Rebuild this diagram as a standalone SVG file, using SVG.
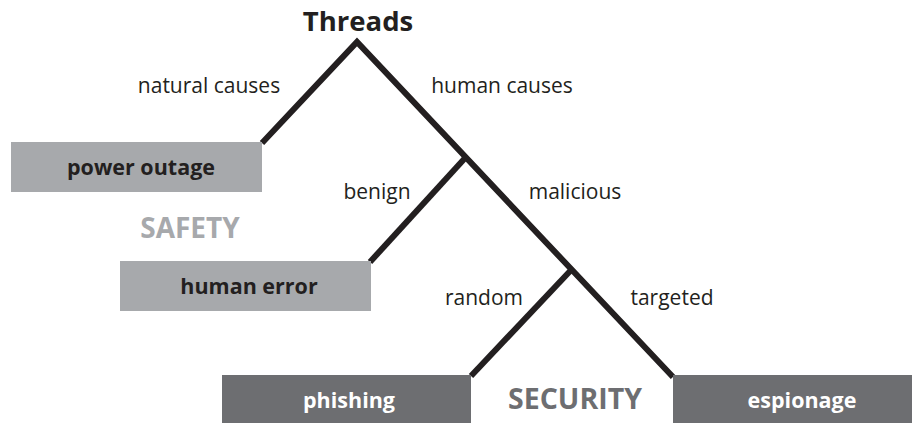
<svg xmlns="http://www.w3.org/2000/svg" width="912" height="423" viewBox="0 0 912 423">
<style>
.lbl{font-family:"Open Sans","Noto Sans",sans-serif;font-size:21px;fill:#231f20;text-anchor:middle}
.bx{font-family:"Open Sans","Noto Sans",sans-serif;font-size:21.5px;font-weight:bold;text-anchor:middle}
.big{font-family:"Open Sans","Noto Sans",sans-serif;font-weight:bold;text-anchor:middle}
.light{fill:#a7a9ac}
.dark{fill:#6d6e71}
.edge{stroke:#231f20;stroke-width:6;fill:none;stroke-linejoin:miter}
</style>
<rect width="912" height="423" fill="#fff"/>
<g id="connectors">
<polyline class="edge" points="262,143 357,42 673,377"/>
<line class="edge" x1="466" y1="157" x2="370" y2="262"/>
<line class="edge" x1="573" y1="268" x2="471" y2="376"/>
</g>
<g id="root"><text class="big" x="358" y="31" style="font-size:27.5px;fill:#231f20">Threads</text></g>
<g id="edge-labels">
<text class="lbl" x="209" y="93">natural causes</text>
<text class="lbl" x="502" y="93">human causes</text>
<text class="lbl" x="377" y="199">benign</text>
<text class="lbl" x="575" y="199">malicious</text>
<text class="lbl" x="484" y="305">random</text>
<text class="lbl" x="672" y="305">targeted</text>
</g>
<g id="power-outage"><rect class="light" x="11" y="142" width="251" height="50"/><text class="bx" x="141" y="175" fill="#231f20">power outage</text></g>
<g id="human-error"><rect class="light" x="120" y="261" width="251" height="50"/><text class="bx" x="249" y="294" fill="#231f20">human error</text></g>
<g id="phishing"><rect class="dark" x="222" y="375" width="249" height="48"/><text class="bx" x="349" y="408" fill="#fff">phishing</text></g>
<g id="espionage"><rect class="dark" x="673" y="375" width="239" height="48"/><text class="bx" x="802" y="408" fill="#fff">espionage</text></g>
<g id="safety"><text class="big" x="190" y="238" style="font-size:28px;fill:#a7a9ac">SAFETY</text></g>
<g id="security"><text class="big" x="575" y="409" style="font-size:28.5px;fill:#6d6e71">SECURITY</text></g>
</svg>
